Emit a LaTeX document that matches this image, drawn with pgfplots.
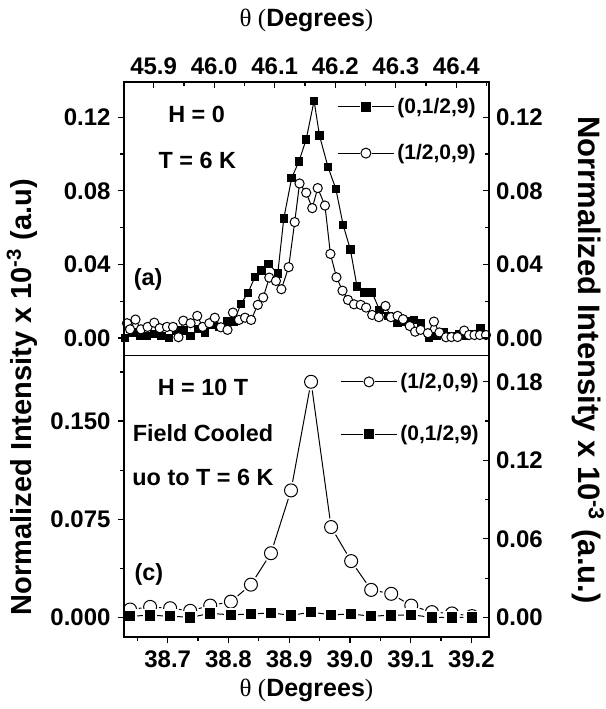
\documentclass[border=0pt]{standalone}
\usepackage{pgfplots}
\usepackage{pgfplotstable}
\pgfplotsset{compat=1.18}
\usepackage{fontspec}
\setmainfont{Liberation Sans}
\newfontfamily\grk{Liberation Serif}

\pgfplotstableread{
th val
45.853 0.000
45.865 0.003
45.877 0.001
45.889 0.001
45.901 0.002
45.913 0.001
45.925 0.000
45.937 0.004
45.949 0.004
45.961 0.001
45.973 0.005
45.985 0.003
45.997 0.007
46.009 0.006
46.021 0.009
46.033 0.009
46.044 0.0185
46.056 0.0246
46.067 0.033
46.078 0.0366
46.090 0.0403
46.105 0.035
46.115 0.065
46.128 0.087
46.140 0.096
46.152 0.108
46.165 0.129
46.174 0.110
46.188 0.093
46.201 0.081
46.213 0.0615
46.225 0.048
46.236 0.0279
46.248 0.0247
46.261 0.0247
46.273 0.0152
46.288 0.012
46.303 0.008
46.316 0.009
46.330 0.0098
46.342 0.008
46.355 0.000
46.367 0.001
46.380 0.003
46.392 0.001
46.404 0.002
46.416 0.001
46.428 0.002
46.440 0.0053
}\topsq

\pgfplotstableread{
th val
45.856 0.008
45.861 0.0047
45.870 0.010
45.879 0.0047
45.890 0.006
45.901 0.0083
45.910 0.0053
45.922 0.006
45.932 0.006
45.941 0.0004
45.949 0.0094
45.961 0.008
45.972 0.012
45.981 0.006
45.992 0.008
46.001 0.011
46.011 0.0058
46.022 0.0044
46.031 0.0138
46.041 0.0098
46.051 0.011
46.061 0.0098
46.072 0.018
46.081 0.022
46.091 0.0328
46.102 0.031
46.111 0.0265
46.123 0.0385
46.133 0.063
46.141 0.084
46.152 0.079
46.162 0.0706
46.171 0.0815
46.183 0.072
46.192 0.0457
46.202 0.033
46.212 0.0257
46.221 0.0207
46.231 0.0183
46.242 0.018
46.251 0.0165
46.261 0.0125
46.272 0.0113
46.283 0.0174
46.292 0.0113
46.303 0.012
46.312 0.0102
46.323 0.0065
46.332 0.0034
46.341 0.0044
46.353 0.0026
46.363 0.0089
46.372 0.003
46.383 0.0004
46.392 0.0005
46.402 0.0005
46.413 0.004
46.421 0.0016
46.430 0.0016
46.439 0.0016
46.449 0.0016
}\topci

\pgfplotstableread{
th val
38.638 0.006
38.671 0.008
38.704 0.007
38.737 0.005
38.770 0.009
38.804 0.012
38.837 0.025
38.870 0.049
38.903 0.097
38.936 0.180
38.969 0.069
39.002 0.043
39.035 0.021
39.068 0.018
39.101 0.009
39.135 0.004
39.168 0.003
39.201 0.001
}\botci

\pgfplotstableread{
th val
38.638 0.001
38.671 0.0015
38.704 0.001
38.737 0.000
38.770 0.003
38.804 0.002
38.837 0.0025
38.870 0.0035
38.903 0.0015
38.936 0.004
38.969 0.002
39.002 0.0025
39.035 0.001
39.068 0.0015
39.101 0.002
39.135 0.000
39.168 0.000
39.201 0.000
}\botsq

\pgfplotsset{
  base/.style={
    scale only axis, width=182.5pt,
    axis line style={line width=0.8pt},
    every tick/.style={line width=0.6pt, black},
    major tick length=3.2pt, minor tick length=2pt,
    tick label style={font=\fontsize{12}{14}\selectfont\bfseries},
    /pgf/number format/assume math mode=true,
    scaled x ticks=false, scaled y ticks=false,
  },
  gaplegend/.style={
    legend image code/.code={
      \draw[##1, mark=none] (0pt,0pt) -- (10.8pt,0pt);
      \draw[##1, mark=none] (17.2pt,0pt) -- (28pt,0pt);
      \draw[##1, only marks] plot coordinates {(14pt,0pt)};
    },
    legend style={draw=none, fill=none, inner sep=0pt,
      font=\fontsize{10.5}{12}\selectfont\bfseries,
      nodes={inner sep=1.5pt}},
    legend cell align=left,
  },
}

\begin{document}
\begin{tikzpicture}
% ---------------- bottom panel, left axis
\begin{axis}[base, gaplegend, name=botL, at={(0pt,0pt)}, anchor=south west, height=140.7pt,
  xmin=38.628, xmax=39.229, ymin=-0.015, ymax=0.2,
  xtick={38.7,38.8,38.9,39.0,39.1,39.2},
  minor xtick={38.65,38.75,38.85,38.95,39.05,39.15},
  xtick pos=left, tick align=outside,
  ytick={0,0.075,0.150}, minor ytick={0.0375,0.1125,0.1875},
  ytick pos=left,
  xticklabel style={/pgf/number format/.cd,fixed,fixed zerofill,precision=1},
  yticklabel style={/pgf/number format/.cd,fixed,fixed zerofill,precision=3},
  legend style={at={(0.592,0.951)}, anchor=north west, row sep=14pt},
]
\addplot[forget plot, black, line width=0.5pt, mark=none] table[x=th,y=val] {\botci};
\addplot[forget plot, only marks, mark=*, mark size=4.2pt, mark options={draw=white, fill=white}] table[x=th,y=val] {\botci};
\addplot[forget plot, only marks, mark=*, mark size=3.25pt, mark options={fill=white, draw=black, line width=0.5pt}] table[x=th,y=val] {\botci};
\addplot[forget plot, black, line width=0.5pt, mark=none] table[x=th,y=val] {\botsq};
\addplot[forget plot, only marks, mark=square*, mark size=3.2pt, mark options={draw=white, fill=white}] table[x=th,y=val] {\botsq};
\addplot[forget plot, only marks, mark=square*, mark size=2.3pt, mark options={fill=black, draw=black}] table[x=th,y=val] {\botsq};
\addlegendimage{black, line width=0.5pt, mark=*, mark size=2.5pt, mark options={fill=white, draw=black}}
\addlegendentry{(1/2,0,9)}
\addlegendimage{black, line width=0.5pt, mark=square*, mark size=2.1pt, mark options={fill=black}}
\addlegendentry{(0,1/2,9)}
\node[font=\fontsize{11.7}{13}\selectfont\bfseries] at (axis cs:38.758,0.1753) {H = 10 T};
\node[font=\fontsize{11.7}{13}\selectfont\bfseries] at (axis cs:38.758,0.1409) {Field Cooled};
\node[font=\fontsize{11.7}{13}\selectfont\bfseries] at (axis cs:38.758,0.1070) {uo to T = 6 K};
\node[font=\fontsize{11.7}{13}\selectfont\bfseries] at (axis cs:38.669,0.0325) {(c)};
\end{axis}
% ---------------- bottom panel, right axis
\begin{axis}[base, at={(0pt,0pt)}, anchor=south west, height=140.7pt,
  xmin=38.628, xmax=39.229, ymin=-0.015, ymax=0.2,
  hide x axis, tick align=inside,
  ytick={0,0.06,0.12,0.18}, minor ytick={0.03,0.09,0.15},
  ytick pos=right, yticklabel pos=right,
  yticklabel style={/pgf/number format/.cd,fixed,fixed zerofill,precision=2},
]
\addplot[draw=none] coordinates {(38.7,0)};
\end{axis}
% ---------------- top panel, left axis
\begin{axis}[base, gaplegend, at={(0pt,140.7pt)}, anchor=south west, height=136.9pt,
  xmin=45.851, xmax=46.454, ymin=-0.0096, ymax=0.1393,
  xtick={45.9,46.0,46.1,46.2,46.3,46.4},
  minor xtick={45.95,46.05,46.15,46.25,46.35,46.45},
  xtick pos=right, xticklabel pos=right, xtick align=inside, ytick align=outside,
  ytick={0,0.04,0.08,0.12}, minor ytick={0.02,0.06,0.10},
  ytick pos=left,
  xticklabel style={/pgf/number format/.cd,fixed,fixed zerofill,precision=1},
  yticklabel style={/pgf/number format/.cd,fixed,fixed zerofill,precision=2},
  legend style={at={(0.5836,0.954)}, anchor=north west, row sep=11pt},
]
\addplot[forget plot, black, line width=0.5pt, mark=square*, mark size=1.85pt, mark options={fill=black}] table[x=th,y=val] {\topsq};
\addplot[forget plot, black, line width=0.5pt, mark=*, mark size=2.3pt, mark options={fill=white, draw=black, line width=0.5pt}] table[x=th,y=val] {\topci};
\addlegendimage{black, line width=0.5pt, mark=square*, mark size=2.1pt, mark options={fill=black}}
\addlegendentry{(0,1/2,9)}
\addlegendimage{black, line width=0.5pt, mark=*, mark size=2.5pt, mark options={fill=white, draw=black}}
\addlegendentry{(1/2,0,9)}
\node[font=\fontsize{11.7}{13}\selectfont\bfseries] at (axis cs:45.971,0.1213) {H = 0};
\node[font=\fontsize{11.7}{13}\selectfont\bfseries] at (axis cs:45.972,0.0968) {T = 6 K};
\node[font=\fontsize{11.7}{13}\selectfont\bfseries] at (axis cs:45.891,0.0316) {(a)};
\end{axis}
% ---------------- top panel, right axis
\begin{axis}[base, at={(0pt,140.7pt)}, anchor=south west, height=136.9pt,
  xmin=45.851, xmax=46.454, ymin=-0.0096, ymax=0.1393,
  hide x axis, tick align=inside,
  ytick={0,0.04,0.08,0.12}, minor ytick={0.02,0.06,0.10},
  ytick pos=right, yticklabel pos=right,
  yticklabel style={/pgf/number format/.cd,fixed,fixed zerofill,precision=2},
]
\addplot[draw=none] coordinates {(46.0,0)};
\end{axis}
% ---------------- axis titles
\node[font=\fontsize{12.5}{14}\selectfont] at (91.25pt,308.5pt) {{\grk θ (}\textbf{Degrees}{\grk )}};
\node[font=\fontsize{12.5}{14}\selectfont] at (91.25pt,-26.5pt) {{\grk θ (}\textbf{Degrees}{\grk )}};
\node[rotate=90, font=\fontsize{14.5}{16}\selectfont\bfseries] at (-51pt,120pt) {Normalized Intensity x 10\textsuperscript{-3} (a.u)};
\node[rotate=-90, font=\fontsize{15.5}{17}\selectfont\bfseries] at (232pt,138.5pt) {Norrmalized Intensity x 10\textsuperscript{-3} (a.u.)};
\pgfresetboundingbox
\path[use as bounding box] (-62pt,-36pt) rectangle (241pt,318.5pt);
\end{tikzpicture}
\end{document}
